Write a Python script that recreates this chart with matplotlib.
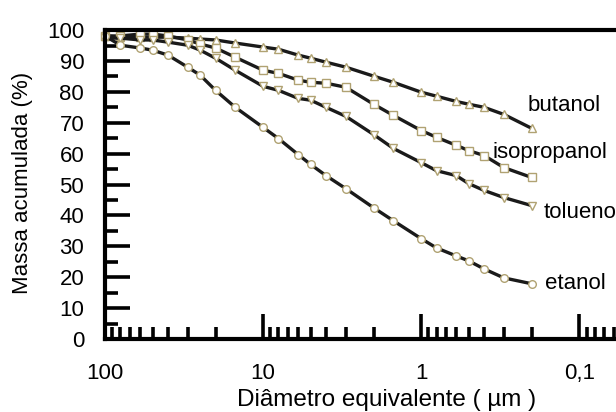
import matplotlib
matplotlib.use('Agg')
import matplotlib.pyplot as plt
from matplotlib.ticker import FixedLocator, NullFormatter, MultipleLocator

plt.rcParams['font.family'] = ['Liberation Sans', 'DejaVu Sans']

# particle sizes (um)
diam = [100, 80, 60, 50, 40, 30, 25, 20, 15, 10, 8, 6, 5, 4, 3, 2, 1.5, 1,
        0.8, 0.6, 0.5, 0.4, 0.3, 0.2]

# cumulative mass (%)
butanol = [98.1, 97.7, 97.7, 97.7, 97.7, 97.4, 97.1, 96.8, 95.8, 94.5, 93.8, 91.9,
           90.9, 89.6, 88.0, 85.1, 83.1, 79.9, 78.6, 76.9, 76.0, 75.0, 72.7, 68.2]
isopropanol = [98.1, 98.1, 98.7, 98.7, 98.1, 96.8, 95.5, 94.2, 91.2, 87.0, 86.0, 83.8,
               83.1, 82.8, 81.5, 76.0, 72.4, 67.5, 65.3, 62.7, 61.0, 59.4, 55.5, 52.3]
tolueno = [97.4, 97.4, 96.8, 96.8, 96.1, 95.1, 93.5, 90.9, 87.0, 81.8, 80.5, 77.9,
           77.3, 75.0, 72.1, 66.2, 61.7, 57.1, 54.5, 52.9, 50.3, 48.1, 45.8, 43.2]
etanol = [98.1, 95.1, 94.2, 93.5, 91.9, 88.0, 85.4, 80.5, 75.0, 68.5, 64.9, 59.7,
          56.5, 52.9, 48.7, 42.5, 38.3, 32.5, 29.5, 26.9, 25.3, 22.7, 19.8, 17.9]

series = [('butanol', butanol, '^'), ('isopropanol', isopropanol, 's'),
          ('tolueno', tolueno, 'v'), ('etanol', etanol, 'o')]

fig = plt.figure(figsize=(6.16, 4.12), dpi=100)
ax = fig.add_axes([0.1705, 0.177, 0.885, 0.75])

edge = '#b0a272'
for name, vals, mk in series:
    ax.plot(diam, vals, color='#1a1a1a', lw=2.4, marker=mk, ms=5.5,
            mfc='white', mec=edge, mew=1.0, clip_on=False)

# curve labels
fs = 16
ax.text(0.213, 75.6, 'butanol', fontsize=fs, ha='left', va='center')
ax.text(0.355, 60.4, 'isopropanol', fontsize=fs, ha='left', va='center')
ax.text(0.169, 40.9, 'tolueno', fontsize=fs, ha='left', va='center')
ax.text(0.165, 17.9, 'etanol', fontsize=fs, ha='left', va='center')

ax.set_xscale('log')
ax.set_xlim(100, 0.0356)
ax.set_ylim(0, 100)

ax.xaxis.set_major_locator(FixedLocator([100, 10, 1, 0.1]))
ax.set_xticklabels(['100', '10', '1', '0,1'])
minors = [m * 10.0 ** e for e in range(-2, 2) for m in range(2, 10)]
ax.xaxis.set_minor_locator(FixedLocator(minors))
ax.xaxis.set_minor_formatter(NullFormatter())

ax.yaxis.set_major_locator(MultipleLocator(10))
ax.yaxis.set_minor_locator(MultipleLocator(5))

for s in ax.spines.values():
    s.set_linewidth(3)
ax.spines['right'].set_visible(False)

ax.tick_params(which='major', direction='in', length=18, width=2.6, labelsize=fs)
ax.tick_params(which='minor', direction='in', length=9, width=2.6)
ax.tick_params(axis='x', which='major', pad=17)
ax.tick_params(axis='y', which='major', pad=15)

ax.set_ylabel('Massa acumulada (%)', fontsize=fs)
ax.yaxis.label.set_va('center')
ax.yaxis.set_label_coords(-0.152, 0.505)
ax.set_xlabel('Diâmetro equivalente ( \u00b5m )', fontsize=17.5)
ax.xaxis.label.set_va('center')
ax.xaxis.set_label_coords(0.516, -0.197)

plt.savefig('out.png', dpi=100)
